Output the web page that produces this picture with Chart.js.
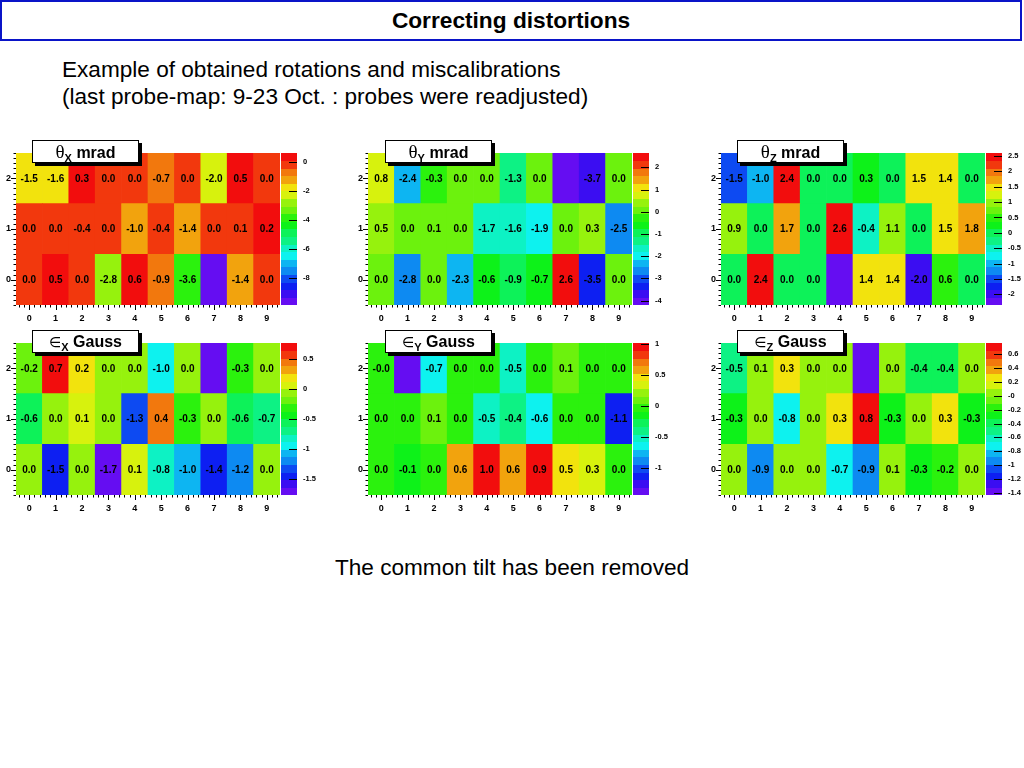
<!DOCTYPE html>
<html>
<head>
<meta charset="utf-8">
<script src="https://cdn.jsdelivr.net/npm/chart.js@4/dist/chart.umd.min.js"></script>
<style>
  body { margin: 0; width: 1024px; height: 768px; overflow: hidden; background: #fff; position: relative;
         font-family: "Liberation Sans", Arial, sans-serif; }
  #header { position: absolute; left: 0; top: 0; width: 1018px; height: 37px; border: 2px solid #0a14c8;
            text-align: center; font-weight: bold; font-size: 22.7px; line-height: 36px; }
  #intro { position: absolute; left: 62px; top: 56px; font-size: 22.6px; line-height: 27px; }
  #footer { position: absolute; left: 0; width: 1024px; top: 554px; text-align: center; font-size: 22.6px; line-height: 27px; }
  canvas { position: absolute; }
  .ttl { position: absolute; width: 105px; height: 21px; border: 1px solid #000; background: #fff;
         box-shadow: 3px 3px 0 #000; text-align: center; font-weight: bold; font-size: 16px; line-height: 21px; z-index: 2; }
  .ttl .g { font-family: "Liberation Serif", serif; font-weight: normal; font-size: 19px; }
  .ttl .e { font-family: "DejaVu Sans", sans-serif; font-weight: normal; font-size: 14px; }
  .ttl sub { font-size: 11px; vertical-align: -4px; line-height: 0; }
</style>
</head>
<body>
<div id="header">Correcting distortions</div>
<div id="intro">Example of obtained rotations and miscalibrations<br>(last probe-map: 9-23 Oct. : probes were readjusted)</div>
<div id="footer">The common tilt has been removed</div>

<canvas id="c_tx"></canvas><canvas id="c_ty"></canvas><canvas id="c_tz"></canvas>
<canvas id="c_ex"></canvas><canvas id="c_ey"></canvas><canvas id="c_ez"></canvas>

<div class="ttl" style="left:32px;top:140px"><span class="g">θ</span><sub>X</sub> mrad</div>
<div class="ttl" style="left:385px;top:140px"><span class="g">θ</span><sub>Y</sub> mrad</div>
<div class="ttl" style="left:737px;top:140px"><span class="g">θ</span><sub>Z</sub> mrad</div>
<div class="ttl" style="left:32px;top:330px"><span class="e">∈</span><sub>X</sub> Gauss</div>
<div class="ttl" style="left:385px;top:330px"><span class="e">∈</span><sub>Y</sub> Gauss</div>
<div class="ttl" style="left:737px;top:330px"><span class="e">∈</span><sub>Z</sub> Gauss</div>

<script>
const FONT = '"Liberation Sans", Arial, sans-serif';
const NBANDS = 20;

const cols = ['0', '1', '2', '3', '4', '5', '6', '7', '8', '9'];
const rows = [0, 1, 2];

// cell values, row 0 first (bottom) to row 2 (top); null = below the scale, drawn without a number
const thetaX = [
  [0.0, 0.5, 0.0, -2.8, 0.6, -0.9, -3.6, null, -1.4, 0.0],
  [0.0, 0.0, -0.4, 0.0, -1.0, -0.4, -1.4, 0.0, 0.1, 0.2],
  [-1.5, -1.6, 0.3, 0.0, 0.0, -0.7, 0.0, -2.0, 0.5, 0.0]
];
const thetaXRange = [-9.85, 0.65];
const thetaXTicks = ['0', '-2', '-4', '-6', '-8'];

const thetaY = [
  [0.0, -2.8, 0.0, -2.3, -0.6, -0.9, -0.7, 2.6, -3.5, 0.0],
  [0.5, 0.0, 0.1, 0.0, -1.7, -1.6, -1.9, 0.0, 0.3, -2.5],
  [0.8, -2.4, -0.3, 0.0, 0.0, -1.3, 0.0, null, -3.7, 0.0]
];
const thetaYRange = [-4.2, 2.65];
const thetaYTicks = ['2', '1', '0', '-1', '-2', '-3', '-4'];

const thetaZ = [
  [0.0, 2.4, 0.0, 0.0, null, 1.4, 1.4, -2.0, 0.6, 0.0],
  [0.9, 0.0, 1.7, 0.0, 2.6, -0.4, 1.1, 0.0, 1.5, 1.8],
  [-1.5, -1.0, 2.4, 0.0, 0.0, 0.3, 0.0, 1.5, 1.4, 0.0]
];
const thetaZRange = [-2.35, 2.6];
const thetaZTicks = ['2.5', '2', '1.5', '1', '0.5', '0', '-0.5', '-1', '-1.5', '-2'];

const epsX = [
  [0.0, -1.5, 0.0, -1.7, 0.1, -0.8, -1.04, -1.4, -1.2, 0.0],
  [-0.6, 0.0, 0.1, 0.0, -1.3, 0.4, -0.3, 0.0, -0.6, -0.7],
  [-0.2, 0.7, 0.2, 0.0, 0.0, -0.96, 0.0, null, -0.3, 0.0]
];
const epsXRange = [-1.76, 0.77];
const epsXTicks = ['0.5', '0', '-0.5', '-1', '-1.5'];

const epsY = [
  [0.0, -0.1, 0.0, 0.6, 1.0, 0.6, 0.9, 0.5, 0.3, 0.0],
  [0.0, 0.0, 0.1, 0.0, -0.5, -0.4, -0.6, 0.0, 0.0, -1.1],
  [-0.03, null, -0.7, 0.0, 0.0, -0.5, 0.0, 0.1, 0.0, 0.0]
];
const epsYRange = [-1.44, 1.02];
const epsYTicks = ['1', '0.5', '0', '-0.5', '-1'];

const epsZ = [
  [0.0, -0.9, 0.0, 0.0, -0.7, -0.9, 0.1, -0.3, -0.2, 0.0],
  [-0.3, 0.0, -0.76, 0.0, 0.3, 0.8, -0.3, 0.0, 0.3, -0.3],
  [-0.5, 0.1, 0.3, 0.0, 0.0, null, 0.0, -0.4, -0.4, 0.0]
];
const epsZRange = [-1.43, 0.76];
const epsZTicks = ['0.6', '0.4', '0.2', '-0', '-0.2', '-0.4', '-0.6', '-0.8', '-1', '-1.2', '-1.4'];

// violet -> red spectrum, 50 hues, sampled into 20 contour bands
function bandColor(j) {
  const idx = Math.floor((j + 0.99) * 50 / NBANDS);
  const hue = 280 - (idx + 1) * 5.6;
  return `hsl(${hue.toFixed(1)}, 90%, 50%)`;
}
function bandOf(v, lo, hi) {
  if (v === null) return 0;
  const j = Math.floor(0.01 + (v - lo) / (hi - lo) * NBANDS);
  return Math.max(0, Math.min(NBANDS - 1, j));
}

function makePanel(id, values, range, ticks, plotLeft, plotTop) {
  const [zmin, zmax] = range;
  const cv = document.getElementById(id);
  const left = plotLeft - 16;
  const W = Math.min(330, 1024 - left);
  cv.width = W; cv.height = 180;
  cv.style.left = left + 'px';
  cv.style.top = (plotTop - 5) + 'px';

  const datasets = rows.map(r => ({
    data: cols.map(() => [r - 0.5, r + 0.5]),
    backgroundColor: values[r].map(v => bandColor(bandOf(v, zmin, zmax))),
    borderWidth: 0,
    grouped: false,
    barPercentage: 1,
    categoryPercentage: 1
  }));
  const tickVals = ticks.map(Number);
  const noPad = s => { s.paddingTop = 0; s.paddingBottom = 0; s.paddingLeft = 0; s.paddingRight = 0; };
  const noGrid = { display: false, drawTicks: false };

  new Chart(cv, {
    type: 'bar',
    data: { labels: cols, datasets },
    options: {
      responsive: false,
      animation: false,
      events: [],
      layout: { padding: { top: 5, left: 0, right: 0, bottom: 0 } },
      plugins: { legend: { display: false }, tooltip: { enabled: false } },
      scales: {
        x: {
          type: 'category', offset: true,
          grid: noGrid, border: { display: false },
          ticks: { color: '#000', font: { family: FONT, weight: 'bold', size: 9 }, padding: 8, maxRotation: 0, autoSkip: false },
          afterFit(s) { s.height = 23; noPad(s); }
        },
        y: {
          type: 'linear', min: -0.5, max: 2.5,
          grid: noGrid, border: { display: false },
          afterBuildTicks(s) { s.ticks = rows.map(v => ({ value: v })); },
          ticks: { color: '#000', font: { family: FONT, weight: 'bold', size: 9 }, padding: 5, callback: v => String(v) },
          afterFit(s) { s.width = 16; noPad(s); }
        },
        z: {
          type: 'linear', position: 'right', min: zmin, max: zmax,
          grid: noGrid, border: { display: false },
          afterBuildTicks(s) { s.ticks = tickVals.map(v => ({ value: v })); },
          ticks: { color: '#000', font: { family: FONT, weight: 'bold', size: 7.5 }, padding: 23, callback: (v, i) => ticks[i] },
          afterFit(s) { s.width = W - 16 - 264; noPad(s); }
        }
      }
    },
    plugins: [{
      id: 'decor',
      afterDraw(chart) {
        const { ctx, chartArea: a, scales: { x, y, z } } = chart;
        ctx.save();
        // cell numbers
        ctx.fillStyle = '#000';
        ctx.font = `bold 10px ${FONT}`;
        ctx.textAlign = 'center';
        ctx.textBaseline = 'middle';
        values.forEach((row, r) => row.forEach((v, c) => {
          if (v === null) return;
          ctx.fillText(v.toFixed(1), x.getPixelForValue(c), y.getPixelForValue(r) + 0.5);
        }));
        // colour scale
        const bx = a.right + 1, bw = 16, step = (zmax - zmin) / NBANDS;
        for (let j = 0; j < NBANDS; j++) {
          const yt = Math.floor(z.getPixelForValue(zmin + (j + 1) * step));
          const yb = Math.ceil(z.getPixelForValue(zmin + j * step));
          ctx.fillStyle = bandColor(j);
          ctx.fillRect(bx, yt, bw, yb - yt);
        }
        ctx.strokeStyle = '#000';
        ctx.lineWidth = 1;
        ctx.beginPath();
        tickVals.forEach(v => {
          const yy = Math.round(z.getPixelForValue(v)) + 0.5;
          ctx.moveTo(bx + bw - 8, yy); ctx.lineTo(bx + bw, yy);
        });
        // y axis ticks
        for (let k = -5; k <= 25; k++) {
          const yy = Math.round(y.getPixelForValue(k / 10)) + 0.5;
          const len = k % 10 === 0 ? 5 : 2.5;
          ctx.moveTo(a.left - len, yy); ctx.lineTo(a.left, yy);
        }
        // x axis ticks
        for (let k = -2; k <= 47; k++) {
          const xx = Math.round(x.getPixelForValue(k / 5)) + 0.5;
          const len = k % 5 === 0 ? 5 : 2.5;
          ctx.moveTo(xx, a.bottom); ctx.lineTo(xx, a.bottom + len);
        }
        ctx.stroke();
        ctx.restore();
      }
    }]
  });
}

makePanel('c_tx', thetaX, thetaXRange, thetaXTicks, 16, 153);
makePanel('c_ty', thetaY, thetaYRange, thetaYTicks, 368, 153);
makePanel('c_tz', thetaZ, thetaZRange, thetaZTicks, 721, 153);
makePanel('c_ex', epsX, epsXRange, epsXTicks, 16, 343);
makePanel('c_ey', epsY, epsYRange, epsYTicks, 368, 343);
makePanel('c_ez', epsZ, epsZRange, epsZTicks, 721, 343);
</script>
</body>
</html>
